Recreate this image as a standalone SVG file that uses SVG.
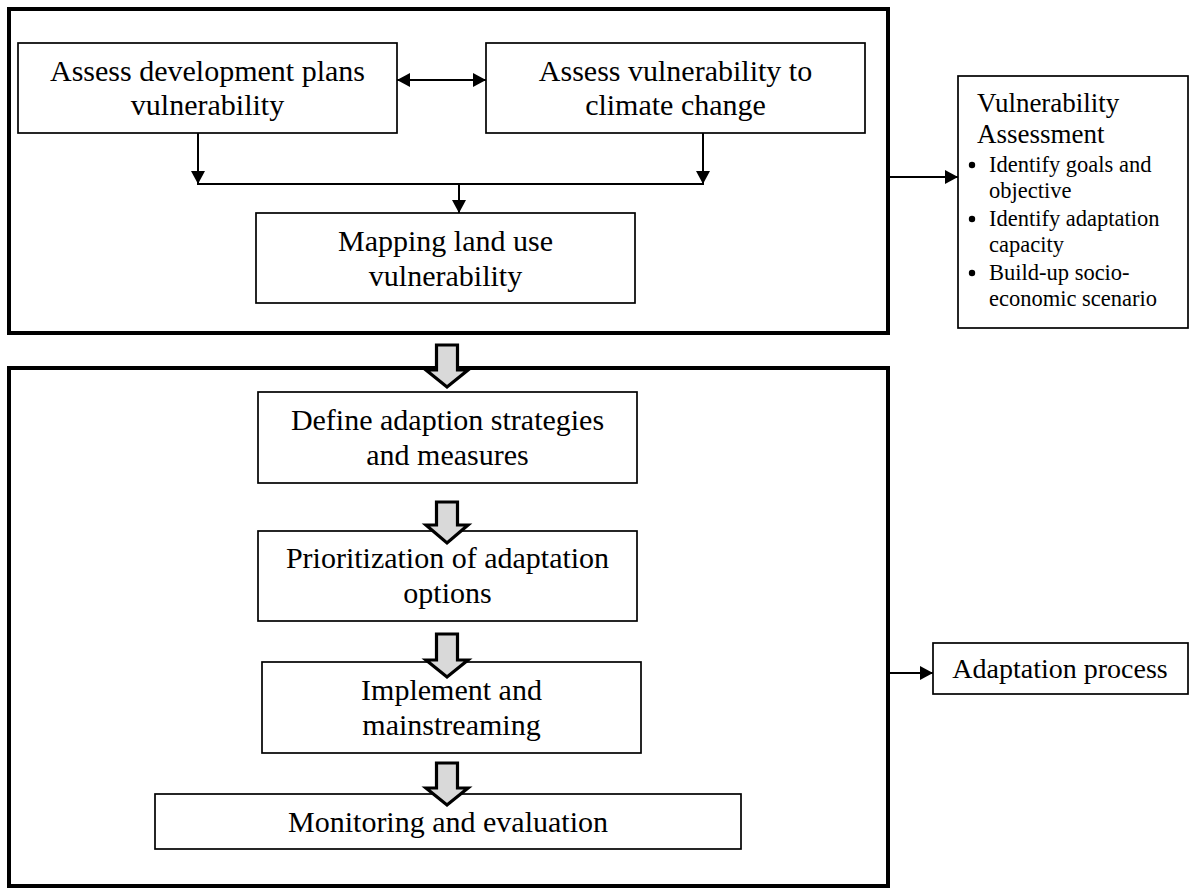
<svg xmlns="http://www.w3.org/2000/svg" width="1190" height="890" viewBox="0 0 1190 890">
  <style>
    .frame { fill: none; stroke: #000; stroke-width: 4; }
    .box { fill: #fff; stroke: #000; stroke-width: 1.7; }
    .t { font-family: "Liberation Serif", "Times New Roman", serif; font-size: 30px; fill: #000; text-anchor: middle; }
    .ts { font-family: "Liberation Serif", "Times New Roman", serif; fill: #000; }
    .line { fill: none; stroke: #000; stroke-width: 2; }
    .block { fill: #d9d9d9; stroke: #000; stroke-width: 3.2; stroke-linejoin: miter; }
  </style>
  <defs>
    <marker id="ah" markerUnits="userSpaceOnUse" markerWidth="14" markerHeight="14" refX="13" refY="7" orient="auto-start-reverse">
      <path d="M0,0 L13,7 L0,14 Z" fill="#000"/>
    </marker>
  </defs>
  <rect width="1190" height="890" fill="#fff"/>

  <g id="frame-vulnerability">
    <rect class="frame" x="9" y="9" width="879" height="324"/>
  </g>
  <g id="frame-adaptation">
    <rect class="frame" x="9" y="368" width="879" height="518"/>
  </g>

  <g id="node-dev-plans">
    <rect class="box" x="18" y="43" width="379" height="90"/>
    <text class="t" x="207.5" y="81">Assess development plans</text>
    <text class="t" x="207.5" y="115">vulnerability</text>
  </g>
  <g id="node-climate">
    <rect class="box" x="486" y="43" width="379" height="90"/>
    <text class="t" x="675.5" y="81">Assess vulnerability to</text>
    <text class="t" x="675.5" y="115">climate change</text>
  </g>
  <g id="node-mapping">
    <rect class="box" x="256" y="213" width="379" height="90"/>
    <text class="t" x="445.5" y="251">Mapping land use</text>
    <text class="t" x="445.5" y="286">vulnerability</text>
  </g>
  <g id="node-vuln-assessment">
    <rect class="box" x="958" y="76" width="230" height="252"/>
    <text class="ts" x="977" y="112" font-size="27">Vulnerability</text>
    <text class="ts" x="977" y="143" font-size="27">Assessment</text>
    <g font-size="22.5">
      <circle cx="972" cy="165" r="3.2" fill="#000"/>
      <text class="ts" x="989" y="172">Identify goals and</text>
      <text class="ts" x="989" y="198">objective</text>
      <circle cx="972" cy="219" r="3.2" fill="#000"/>
      <text class="ts" x="989" y="226">Identify adaptation</text>
      <text class="ts" x="989" y="252">capacity</text>
      <circle cx="972" cy="273" r="3.2" fill="#000"/>
      <text class="ts" x="989" y="280">Build-up socio-</text>
      <text class="ts" x="989" y="306">economic scenario</text>
    </g>
  </g>
  <g id="node-define">
    <rect class="box" x="258" y="392" width="379" height="91"/>
    <text class="t" x="447.5" y="430">Define adaption strategies</text>
    <text class="t" x="447.5" y="465">and measures</text>
  </g>
  <g id="node-prioritization">
    <rect class="box" x="258" y="531" width="379" height="90"/>
    <text class="t" x="447.5" y="568">Prioritization of adaptation</text>
    <text class="t" x="447.5" y="603">options</text>
  </g>
  <g id="node-implement">
    <rect class="box" x="262" y="662" width="379" height="91"/>
    <text class="t" x="451.5" y="700">Implement and</text>
    <text class="t" x="451.5" y="735">mainstreaming</text>
  </g>
  <g id="node-monitoring">
    <rect class="box" x="155" y="794" width="586" height="55"/>
    <text class="t" x="448" y="832">Monitoring and evaluation</text>
  </g>
  <g id="node-adaptation-process">
    <rect class="box" x="933" y="643" width="255" height="51"/>
    <text class="ts" x="1060" y="678" font-size="28" text-anchor="middle">Adaptation process</text>
  </g>

  <g id="connectors">
    <line class="line" x1="397" y1="80" x2="486" y2="80" marker-start="url(#ah)" marker-end="url(#ah)"/>
    <line class="line" x1="198" y1="133" x2="198" y2="184" marker-end="url(#ah)"/>
    <line class="line" x1="703" y1="133" x2="703" y2="184" marker-end="url(#ah)"/>
    <line class="line" x1="197" y1="184" x2="704" y2="184"/>
    <line class="line" x1="459" y1="184" x2="459" y2="213" marker-end="url(#ah)"/>
    <line class="line" x1="890" y1="177" x2="958" y2="177" marker-end="url(#ah)"/>
    <line class="line" x1="890" y1="673" x2="933" y2="673" marker-end="url(#ah)"/>
    <path class="block" d="M436.5,345 H457.5 V370 H468 L447,387 L426,370 H436.5 Z"/>
    <path class="block" d="M436.5,502 H457.5 V525 H468 L447,543 L426,525 H436.5 Z"/>
    <path class="block" d="M436.5,634 H457.5 V660 H468 L447,677 L426,660 H436.5 Z"/>
    <path class="block" d="M436.5,763 H457.5 V788 H468 L447,805 L426,788 H436.5 Z"/>
  </g>
</svg>
